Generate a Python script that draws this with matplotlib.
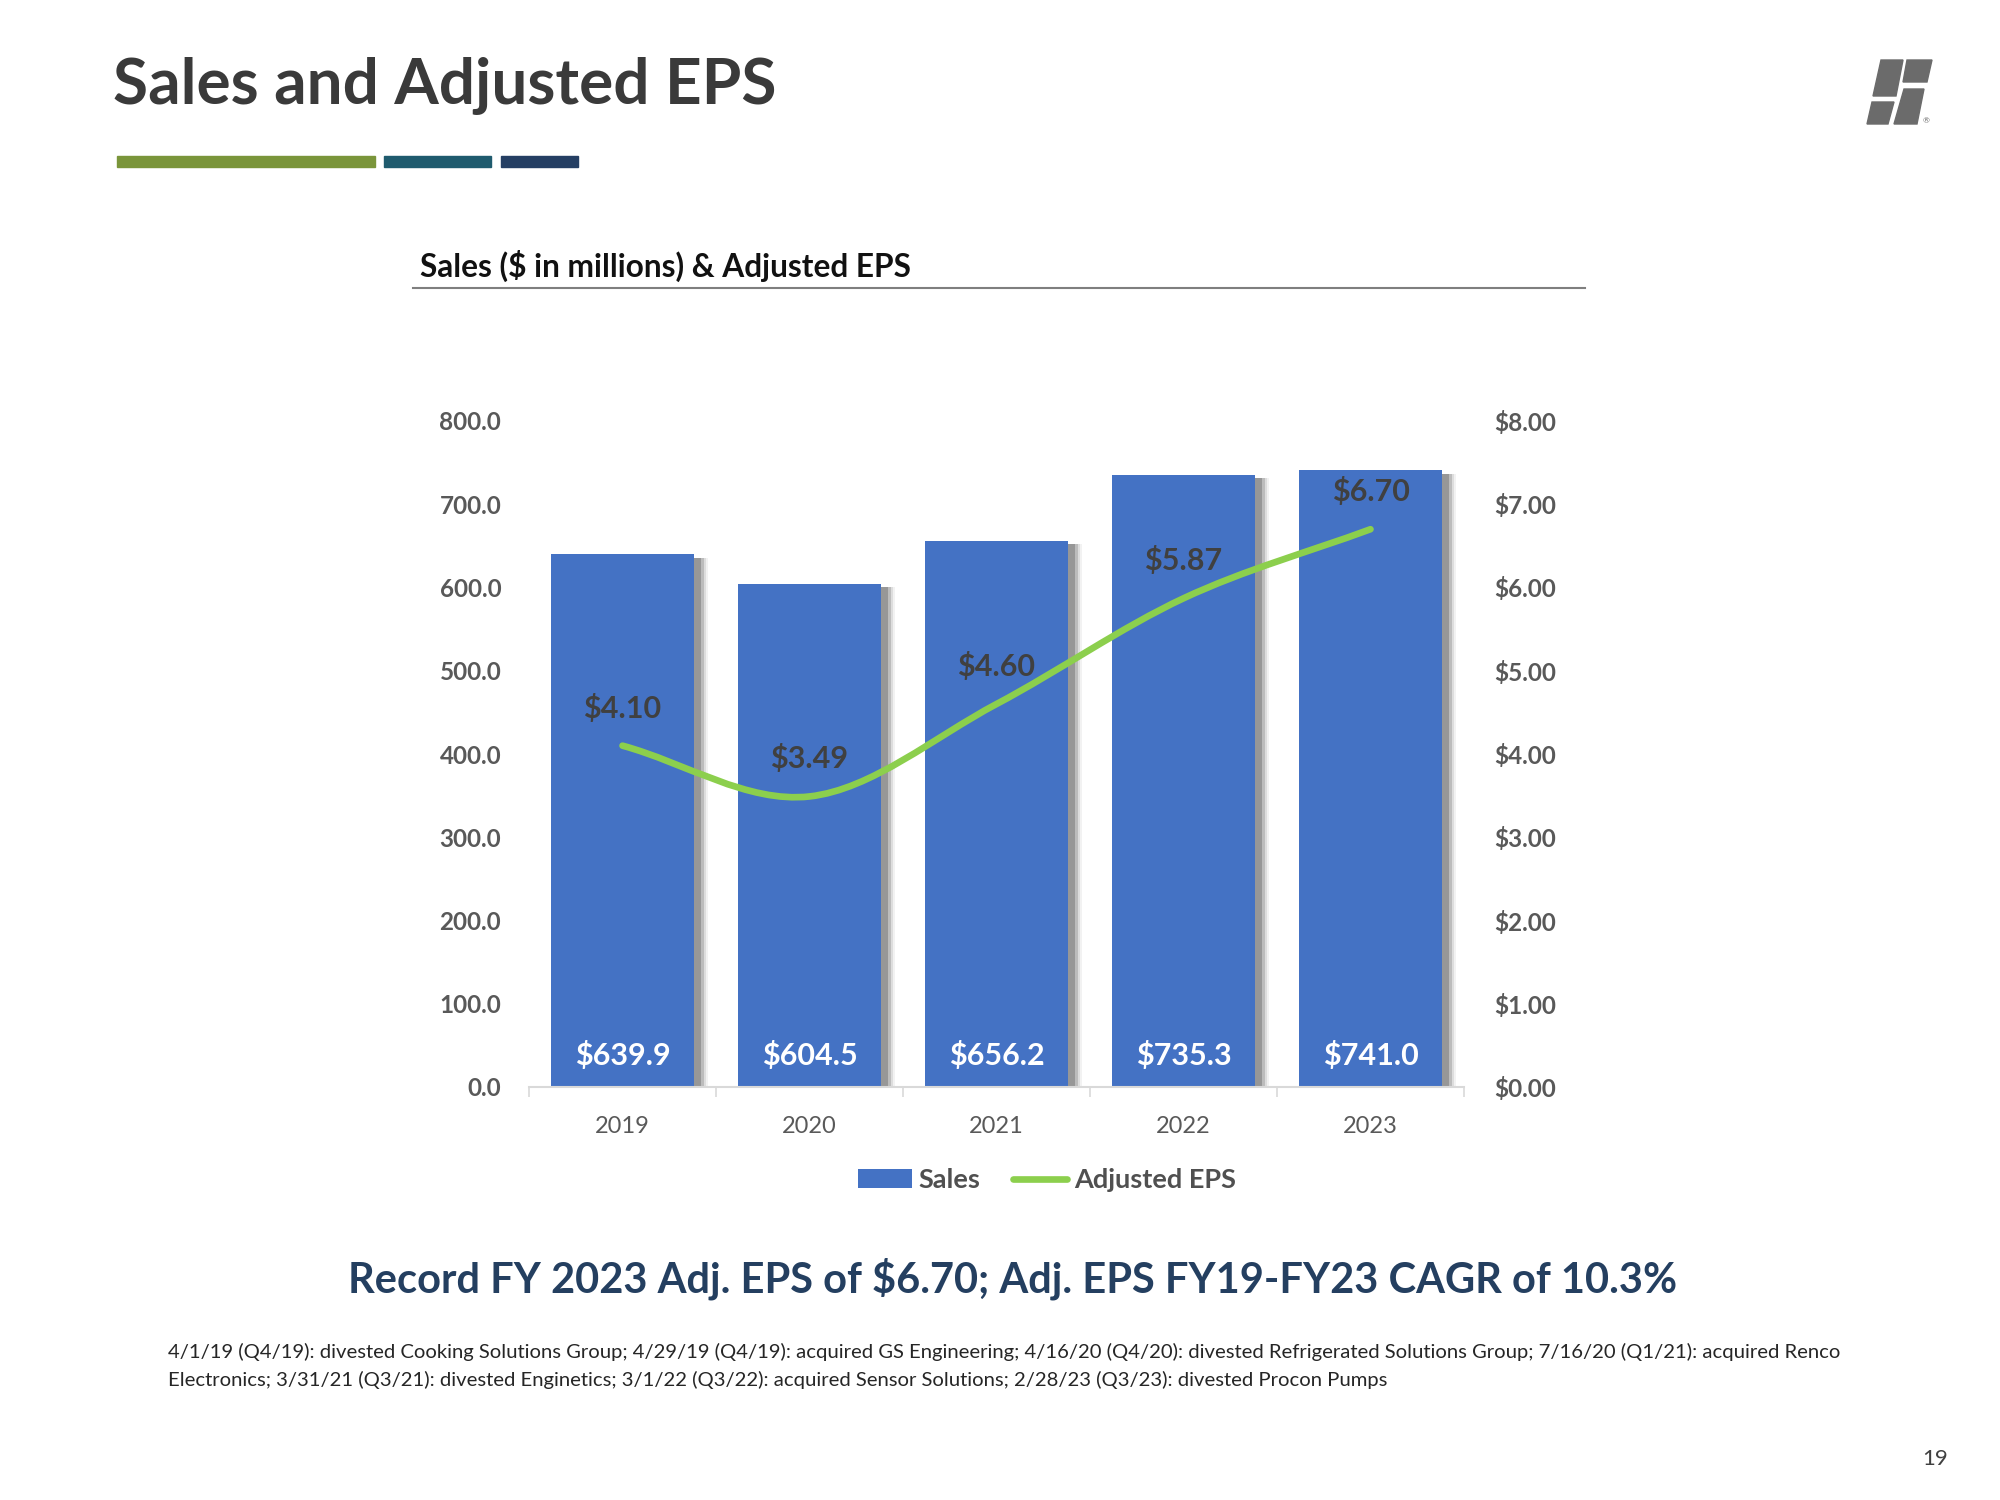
"""
Sales and adjusted EPS slide: bars for sales, smoothed line for EPS on a second axis
"""
import numpy as np
import matplotlib
matplotlib.use("Agg")
import matplotlib.pyplot as plt
import matplotlib.patheffects as pe
from matplotlib.path import Path
from matplotlib.patches import PathPatch, Polygon, Patch
from matplotlib.lines import Line2D

plt.rcParams['font.family'] = ['Lato', 'DejaVu Sans']

# data
years = ['2019', '2020', '2021', '2022', '2023']
sales = [639.9, 604.5, 656.2, 735.3, 741.0]
eps = [4.10, 3.49, 4.60, 5.87, 6.70]
sales_ticks = [0, 100, 200, 300, 400, 500, 600, 700, 800]
eps_ticks = [0, 1, 2, 3, 4, 5, 6, 7, 8]

headline = 'Record FY 2023 Adj. EPS of $6.70; Adj. EPS FY19-FY23 CAGR of 10.3%'
footnote_lines = [
    '4/1/19 (Q4/19): divested Cooking Solutions Group; 4/29/19 (Q4/19): acquired GS Engineering; '
    '4/16/20 (Q4/20): divested Refrigerated Solutions Group; 7/16/20 (Q1/21): acquired Renco',
    'Electronics; 3/31/21 (Q3/21): divested Enginetics; 3/1/22 (Q3/22): acquired Sensor Solutions; '
    '2/28/23 (Q3/23): divested Procon Pumps',
]

BAR_BLUE = '#4472c4'
LINE_GREEN = '#8ccf4d'
TICK_GREY = '#595959'

W, H = 2000, 1500


def fx(px):
    """pixel x -> figure fraction"""
    return px / W


def fy(py):
    """pixel y (from top) -> figure fraction"""
    return 1 - py / H


def smooth_path(xs, ys):
    """Bezier path through the points, catmull-rom style like excel's smoothed line"""
    pts = np.column_stack([xs, ys]).astype(float)
    n = len(pts)
    tang = np.zeros_like(pts)
    for i in range(n):
        if i == 0:
            tang[i] = (pts[1] - pts[0])
        elif i == n - 1:
            tang[i] = (pts[-1] - pts[-2])
        else:
            tang[i] = (pts[i + 1] - pts[i - 1]) / 2
    verts = [pts[0]]
    codes = [Path.MOVETO]
    for i in range(n - 1):
        verts += [pts[i] + tang[i] / 3, pts[i + 1] - tang[i + 1] / 3, pts[i + 1]]
        codes += [Path.CURVE4] * 3
    return Path(verts, codes)


fig = plt.figure(figsize=(20, 15), dpi=100)
fig.patch.set_facecolor('white')

# slide title and the coloured strip under it
fig.text(fx(113), fy(86), 'Sales and Adjusted EPS', fontsize=46, fontweight='bold',
         color='#3a3a3a', ha='left', va='center')
for x0, x1, c in [(117, 375, '#7a953a'), (384, 491, '#1f5b6e'), (501, 578, '#253f63')]:
    fig.patches.append(plt.Rectangle((fx(x0), fy(167)), fx(x1) - fx(x0), 11 / H,
                                     transform=fig.transFigure, color=c))

# logo in the top right corner
logo = [
    [(1881, 60), (1903, 60), (1896, 96), (1873, 96)],
    [(1907, 60), (1932, 60), (1927, 82), (1903, 82)],
    [(1904, 89), (1924, 89), (1917, 124), (1894, 124)],
    [(1872, 102), (1894, 102), (1888, 124), (1867, 124)],
]
for poly in logo:
    fig.patches.append(Polygon([(fx(a), fy(b)) for a, b in poly], closed=True,
                               transform=fig.transFigure, color='#6b6b6b'))
fig.text(fx(1926), fy(121), '®', fontsize=6, color='#6b6b6b', ha='center', va='center')

# chart heading with a rule under it
fig.text(fx(420), fy(266), 'Sales ($ in millions) & Adjusted EPS', fontsize=22.8,
         fontweight='bold', color='#111111', ha='left', va='center')
fig.lines.append(Line2D([fx(413), fx(1585)], [fy(288), fy(288)], transform=fig.transFigure,
                        color='#7f7f7f', lw=1.5))

# main axes
ax = fig.add_axes([fx(529), fy(1087), fx(1464) - fx(529), (1087 - 421) / H])
x = np.arange(len(years))
shadow = [pe.SimplePatchShadow(offset=(9.5, -2.5), shadow_rgbFace='#9a9a9a', alpha=0.12),
          pe.SimplePatchShadow(offset=(8, -2.5), shadow_rgbFace='#8a8a8a', alpha=0.2),
          pe.SimplePatchShadow(offset=(6.5, -2.5), shadow_rgbFace='#808080', alpha=0.35),
          pe.SimplePatchShadow(offset=(5, -2.5), shadow_rgbFace='#7a7a7a', alpha=0.55),
          pe.Normal()]
bars = ax.bar(x, sales, width=0.77, color=BAR_BLUE, zorder=2)
for b in bars:
    b.set_path_effects(shadow)
for xi, s in zip(x, sales):
    ax.text(xi, 38, f'${s:,.1f}', ha='center', va='center', fontsize=22,
            fontweight='bold', color='white', zorder=5)

ax.set_xlim(-0.5, len(years) - 0.5)
ax.set_ylim(0, 800)
ax.set_yticks(sales_ticks)
ax.set_yticklabels([f'{v:.1f}' for v in sales_ticks])
ax.set_xticks(x)
ax.set_xticklabels(years)
ax.set_xticks(np.arange(len(years) + 1) - 0.5, minor=True)
ax.tick_params(axis='x', which='major', length=0, pad=21, labelsize=17, labelcolor=TICK_GREY)
ax.tick_params(axis='x', which='minor', length=7, width=1.2, color='#d9d9d9', direction='out')
ax.tick_params(axis='y', length=0, pad=20, labelsize=17.5, labelcolor=TICK_GREY)
for lbl in ax.get_yticklabels():
    lbl.set_fontweight('bold')
for side in ['top', 'right', 'left']:
    ax.spines[side].set_visible(False)
ax.spines['bottom'].set_color('#d9d9d9')
ax.spines['bottom'].set_linewidth(1.5)

# eps on the secondary axis
ax2 = ax.twinx()
ax2.set_ylim(0, 8)
ax2.set_yticks(eps_ticks)
ax2.set_yticklabels([f'${v:.2f}' for v in eps_ticks])
ax2.tick_params(axis='y', length=0, pad=22, labelsize=17.5, labelcolor=TICK_GREY)
for lbl in ax2.get_yticklabels():
    lbl.set_fontweight('bold')
for side in ['top', 'right', 'left', 'bottom']:
    ax2.spines[side].set_visible(False)
ax2.add_patch(PathPatch(smooth_path(x, eps), facecolor='none', edgecolor=LINE_GREEN,
                        lw=4.8, capstyle='round', zorder=3))
for xi, e in zip(x, eps):
    ax2.annotate(f'${e:.2f}', (xi, e), xytext=(0, 27), textcoords='offset points',
                 ha='center', va='center', fontsize=22, fontweight='bold', color='#404040')

# legend below the axis
handles = [Patch(facecolor=BAR_BLUE, edgecolor='none'),
           Line2D([], [], color=LINE_GREEN, lw=4.8, solid_capstyle='round')]
fig.legend(handles, ['Sales', 'Adjusted EPS'], loc='center', bbox_to_anchor=(fx(1047), fy(1180)),
           ncol=2, frameon=False, handlelength=2.0, handletextpad=0.25,
           columnspacing=1.2, labelcolor='#505050', prop={'weight': 'bold', 'size': 19.5})

# headline and footnotes
fig.text(fx(1013), fy(1279), headline, fontsize=30, fontweight='bold', color='#243f60',
         ha='center', va='center')
fig.text(fx(168), fy(1352), footnote_lines[0], fontsize=14.6, color='#262626', ha='left', va='center')
fig.text(fx(168), fy(1380), footnote_lines[1], fontsize=14.6, color='#262626', ha='left', va='center')
fig.text(fx(1935), fy(1459), '19', fontsize=16, color='#404040', ha='center', va='center')

fig.savefig('out.png', dpi=100, facecolor='white')
